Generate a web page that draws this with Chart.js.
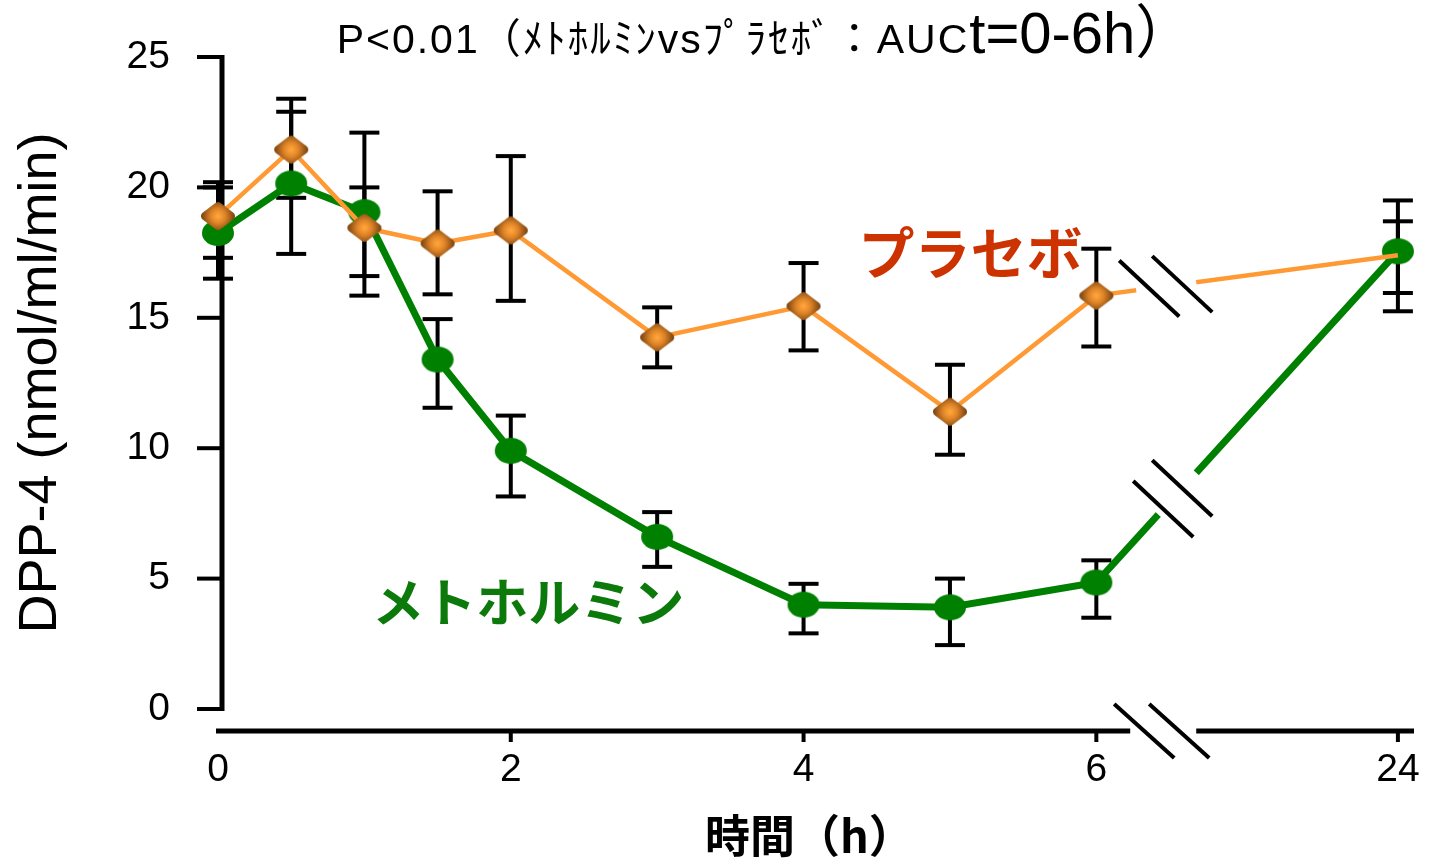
<!DOCTYPE html>
<html><head><meta charset="utf-8">
<script src="https://cdn.jsdelivr.net/npm/chart.js@4.4.1/dist/chart.umd.min.js"></script>
<style>html,body{margin:0;padding:0;background:#fff;}canvas{display:block}</style>
</head><body>
<canvas id="c" width="1435" height="862"></canvas>
<script>
// ---- data ----
const hours = [0, 0.5, 1, 1.5, 2, 3, 4, 5, 6, 24];
const placebo     = [18.9, 21.45, 18.45, 17.85, 18.35, 14.25, 15.45, 11.4, 15.85, 17.4];
const placeboHi   = [20.2, 23.4, 20.0, 19.85, 21.2, 15.4, 17.1, 13.2, 17.65, 18.7];
const placeboLo   = [17.3, 19.6, 16.6, 15.9, 15.65, 13.1, 13.75, 9.75, 13.9, 15.95];
const metformin   = [18.25, 20.15, 19.05, 13.4, 9.9, 6.6, 4.0, 3.9, 4.85, 17.55];
const metforminHi = [20.0, 22.9, 22.1, 14.95, 11.25, 7.55, 4.8, 5.0, 5.7, 19.5];
const metforminLo = [16.5, 17.45, 15.85, 11.55, 8.15, 5.45, 2.9, 2.45, 3.5, 15.25];
const xTickHours = [0, 2, 4, 6, 24];
const yTickValues = [0, 5, 10, 15, 20, 25];
const titleMain = 'P<0.01（ﾒﾄﾎﾙﾐﾝvsﾌﾟﾗｾﾎﾞ：AUC';
const titleTail = 't=0-6h）';
const xTitle = '時間（h）';
const yTitle = 'DPP-4 (nmol/ml/min)';
const placeboName = 'プラセボ';
const metforminName = 'メトホルミン';

// axis break: hours after 6 are compressed onto the axis
const BREAK_POS = 6.45, POS_24 = 8.06;
const xPos = h => (h <= 6 ? h : POS_24);

Chart.defaults.font.family = '"Liberation Sans", "Noto Sans CJK JP", sans-serif';
Chart.defaults.color = '#000';

function makeEllipse() {
  const c = document.createElement('canvas'); c.width = 34; c.height = 28;
  const g = c.getContext('2d');
  g.fillStyle = '#008000';
  g.beginPath(); g.ellipse(17, 14, 16, 13, 0, 0, Math.PI * 2); g.fill();
  return c;
}
function makeDiamond() {
  const c = document.createElement('canvas'); c.width = 36; c.height = 30;
  const g = c.getContext('2d');
  const cx = 18, cy = 15;
  const grd = g.createRadialGradient(cx, cy, 1, cx, cy, 17);
  grd.addColorStop(0, '#FFA43A'); grd.addColorStop(0.4, '#DE8428'); grd.addColorStop(1, '#74400F');
  g.fillStyle = grd; g.strokeStyle = grd; g.lineJoin = 'round'; g.lineWidth = 9;
  g.beginPath(); g.moveTo(cx, 5.5); g.lineTo(30.5, cy); g.lineTo(cx, 24.5); g.lineTo(5.5, cy); g.closePath();
  g.fill(); g.stroke();
  return c;
}
const ellipseImg = makeEllipse();
const diamondImg = makeDiamond();

function seg(ctx, x1, y1, x2, y2) { ctx.beginPath(); ctx.moveTo(x1, y1); ctx.lineTo(x2, y2); ctx.stroke(); }

const drawPlugin = {
  id: 'custom',
  beforeDatasetsDraw(chart) {
    const { ctx, scales: { x, y } } = chart;
    ctx.save();
    ctx.strokeStyle = '#000'; ctx.lineCap = 'butt';
    // y axis
    const yx = x.getPixelForValue(0) + 4;
    ctx.lineWidth = 5;
    seg(ctx, yx, y.getPixelForValue(25) - 2, yx, y.getPixelForValue(0) + 2);
    ctx.lineWidth = 4;
    yTickValues.forEach(v => { const py = y.getPixelForValue(v); seg(ctx, yx - 25, py, yx + 2, py); });
    // x axis with break
    const ay = y.getPixelForValue(0) + 22;
    const bx = x.getPixelForValue(BREAK_POS);
    ctx.lineWidth = 5;
    seg(ctx, x.getPixelForValue(0) - 2, ay, bx - 32, ay);
    seg(ctx, bx + 34, ay, x.right, ay);
    ctx.lineWidth = 4;
    xTickHours.forEach((h, i) => { if (i === 0) return; const px = x.getPixelForValue(xPos(h)); seg(ctx, px, ay, px, ay + 11); });
    [-18, 17].forEach(o => seg(ctx, bx + o - 30, ay - 27, bx + o + 30, ay + 27));
    // error bars
    const bars = [[placeboHi, placeboLo], [metforminHi, metforminLo]];
    bars.forEach(([hi, lo]) => {
      hours.forEach((h, i) => {
        const px = x.getPixelForValue(xPos(h));
        const p1 = y.getPixelForValue(hi[i]), p2 = y.getPixelForValue(lo[i]);
        seg(ctx, px, p1, px, p2);
        seg(ctx, px - 15, p1, px + 15, p1);
        seg(ctx, px - 15, p2, px + 15, p2);
      });
    });
    ctx.restore();
  },
  afterDatasetsDraw(chart) {
    const { ctx, scales: { x, y } } = chart;
    const bx = x.getPixelForValue(BREAK_POS);
    const cfg = [ { ds: 1, gap: [-26, 34], marks: [-13, 20] }, { ds: 0, gap: [-4, 34], marks: [1, 20] } ];
    ctx.save();
    cfg.forEach(c => {
      const pts = chart.getDatasetMeta(c.ds).data;
      const a = pts[pts.length - 2], b = pts[pts.length - 1];
      const yAt = px => a.y + (b.y - a.y) * (px - a.x) / (b.x - a.x);
      ctx.strokeStyle = '#fff'; ctx.lineWidth = 14; ctx.lineCap = 'butt';
      seg(ctx, bx + c.gap[0], yAt(bx + c.gap[0]), bx + c.gap[1], yAt(bx + c.gap[1]));
      ctx.strokeStyle = '#000'; ctx.lineWidth = 4;
      c.marks.forEach(o => { const mx = bx + o, my = yAt(mx); seg(ctx, mx - 30, my - 28, mx + 30, my + 28); });
    });
    ctx.restore();
  },
  afterDraw(chart) {
    const { ctx, scales: { x, y } } = chart;
    ctx.save();
    // title
    ctx.fillStyle = '#000'; ctx.textBaseline = 'alphabetic'; ctx.textAlign = 'left';
    const f1 = '41px "Liberation Sans", "Noto Sans CJK JP"', f2 = '58px "Liberation Sans", "Noto Sans CJK JP"';
    ctx.font = f1; ctx.letterSpacing = '2px'; const w1 = ctx.measureText(titleMain).width;
    ctx.font = f2; ctx.letterSpacing = '0px'; const w2 = ctx.measureText(titleTail).width;
    const sx = 765 - (w1 + w2) / 2;
    ctx.font = f1; ctx.letterSpacing = '2px'; ctx.fillText(titleMain, sx, 53);
    ctx.font = f2; ctx.letterSpacing = '0px'; ctx.fillText(titleTail, sx + w1, 53);
    // series labels
    ctx.textAlign = 'center'; ctx.textBaseline = 'middle';
    ctx.font = 'bold 56px "Noto Sans CJK JP"'; ctx.fillStyle = '#CC3300';
    ctx.fillText(placeboName, x.getPixelForValue(5.14), y.getPixelForValue(17.5));
    ctx.font = 'bold 52px "Noto Sans CJK JP"'; ctx.fillStyle = '#0B7A0B';
    ctx.fillText(metforminName, x.getPixelForValue(2.12), y.getPixelForValue(4.1));
    // x title
    ctx.font = 'bold 45px "Noto Sans CJK JP"'; ctx.fillStyle = '#000';
    ctx.fillText(xTitle, x.getPixelForValue(4.04), 836);
    ctx.restore();
  }
};

new Chart(document.getElementById('c'), {
  type: 'line',
  data: {
    datasets: [
      { label: metforminName, data: hours.map((h, i) => ({ x: xPos(h), y: metformin[i] })),
        borderColor: '#008000', borderWidth: 7, pointStyle: ellipseImg, pointRadius: 14, pointHoverRadius: 14,
        order: 2, clip: false, tension: 0 },
      { label: placeboName, data: hours.map((h, i) => ({ x: xPos(h), y: placebo[i] })),
        borderColor: '#FF9933', borderWidth: 4.5, pointStyle: diamondImg,
        pointRadius: c => (c.dataIndex === hours.length - 1 ? 0 : 14), pointHoverRadius: 14,
        order: 1, clip: false, tension: 0 }
    ]
  },
  options: {
    responsive: false, animation: false,
    layout: { padding: { top: 57, right: 19, bottom: 0, left: 0 } },
    plugins: { legend: { display: false }, tooltip: { enabled: false }, title: { display: false } },
    scales: {
      x: {
        type: 'linear', min: 0, max: 8.17,
        grid: { display: false, drawTicks: false }, border: { display: false },
        afterBuildTicks: s => { s.ticks = xTickHours.map(h => ({ value: xPos(h) })); },
        ticks: { font: { size: 39 }, padding: 38, maxRotation: 0, autoSkip: false,
                 callback: (v, i) => String(xTickHours[i]) },
        afterFit: s => { s.height = 153; s.paddingLeft = 0; s.paddingRight = 0; s.paddingTop = 0; s.paddingBottom = 0; }
      },
      y: {
        min: 0, max: 25,
        grid: { display: false, drawTicks: false }, border: { display: false },
        ticks: { stepSize: 5, font: { size: 39 }, padding: 48 },
        title: { display: true, text: yTitle, font: { size: 54 }, padding: { top: 9, bottom: 0 } },
        afterFit: s => { s.width = 218; s.paddingTop = 0; s.paddingBottom = 0; s.paddingLeft = 0; s.paddingRight = 0; }
      }
    }
  },
  plugins: [drawPlugin]
});
</script>
</body></html>
